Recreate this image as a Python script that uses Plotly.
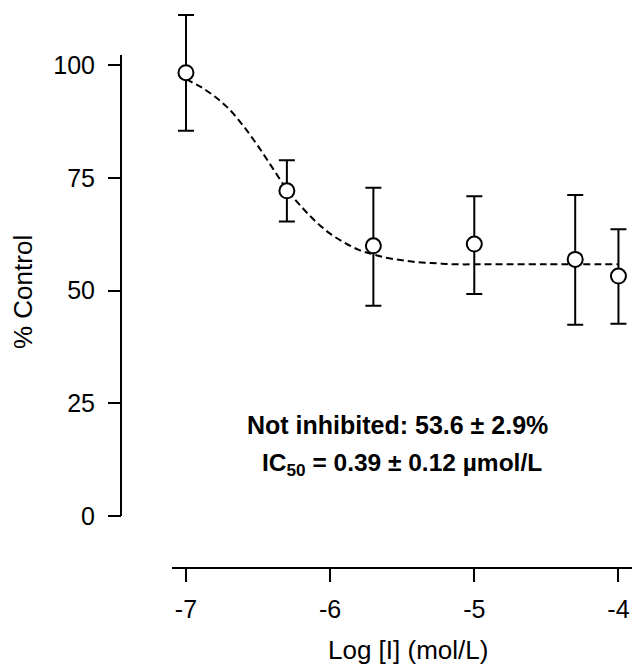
import plotly.graph_objects as go

# Data
log_conc = [-7.0, -6.3, -5.7, -5.0, -4.3, -4.0]
pct_control = [98.3, 72.1, 59.9, 60.3, 56.9, 53.2]
err_plus = [12.8, 6.8, 12.9, 10.6, 14.3, 10.4]
err_minus = [12.9, 6.8, 13.3, 11.1, 14.5, 10.6]

fit_x = [-7.0, -6.9, -6.8, -6.7, -6.6, -6.5, -6.4, -6.3, -6.2, -6.1, -6.0,
         -5.9, -5.8, -5.7, -5.6, -5.5, -5.4, -5.3, -5.2, -5.1, -5.0, -4.5, -4.0]
fit_y = [96.8, 95.2, 93.0, 90.2, 86.4, 82.0, 77.2, 72.4, 68.6, 65.3, 62.6,
         60.6, 59.0, 58.0, 57.2, 56.7, 56.3, 56.1, 55.9, 55.8, 55.8, 55.8, 55.8]

x_ticks = [-7, -6, -5, -4]
y_ticks = [0, 25, 50, 75, 100]
y_axis_top = 102.2

FONT = "Liberation Sans, Arial, Helvetica, sans-serif"

W, H = 632, 664
L, R, T, B = 121, 0, 11, 96
pw, ph = W - L - R, H - T - B


def px(xr):
    return (xr - L) / pw


def py(yr):
    return (H - B - yr) / ph


unit = (516 - 65) / 100.0
y_top = (516 - T) / unit

fig = go.Figure()
fig.add_trace(go.Scatter(
    x=fit_x, y=fit_y, mode="lines",
    line=dict(color="black", width=2, dash="7px,4px", shape="spline"),
    hoverinfo="skip", showlegend=False))
fig.add_trace(go.Scatter(
    x=log_conc, y=pct_control, mode="markers",
    marker=dict(symbol="circle", size=15, color="white", line=dict(color="black", width=2)),
    error_y=dict(type="data", array=err_plus, arrayminus=err_minus, symmetric=False,
                 color="black", thickness=2, width=8),
    cliponaxis=False, showlegend=False))

fig.update_layout(
    width=W, height=H, margin=dict(l=L, r=R, t=T, b=B, pad=0),
    paper_bgcolor="white", plot_bgcolor="white",
    font=dict(family=FONT, color="black"),
    xaxis=dict(domain=[px(171.7), 1], range=[-7.099, -3.906], anchor="free", position=0,
               tickvals=x_ticks, ticktext=[str(v) for v in x_ticks],
               ticks="outside", ticklen=13, tickwidth=2, tickcolor="black",
               showline=True, linecolor="black", linewidth=2,
               showgrid=False, zeroline=False, tickfont=dict(size=25, family=FONT),
               ticklabelstandoff=6, ticklabeloverflow="allow"),
    yaxis=dict(domain=[py(516), 1], range=[0, y_top], anchor="free", position=0,
               tickvals=y_ticks, ticktext=[str(v) for v in y_ticks],
               ticks="outside", ticklen=13, tickwidth=2, tickcolor="black",
               showline=False,
               showgrid=False, zeroline=False, tickfont=dict(size=25, family=FONT),
               ticklabelstandoff=8, ticklabeloverflow="allow"),
    shapes=[dict(type="line", xref="paper", yref="y", x0=0, x1=0, y0=0, y1=y_axis_top,
                 line=dict(color="black", width=2))],
    annotations=[
        dict(text="Log [I] (mol/L)", xref="paper", yref="paper", x=px(408), y=py(650),
             xanchor="center", yanchor="middle", showarrow=False, font=dict(size=26)),
        dict(text="% Control", xref="paper", yref="paper", x=px(23), y=py(292),
             xanchor="center", yanchor="middle", textangle=-90, showarrow=False,
             font=dict(size=26)),
        dict(text="<b>Not inhibited: 53.6 ± 2.9%</b>", xref="paper", yref="paper",
             x=px(397), y=py(425), xanchor="center", yanchor="middle", showarrow=False,
             font=dict(size=25)),
        dict(text="<b>IC<sub>50</sub> = 0.39 ± 0.12 µmol/L</b>", xref="paper", yref="paper",
             x=px(402), y=py(464), xanchor="center", yanchor="middle", showarrow=False,
             font=dict(size=24.5)),
    ],
)

fig.write_html("out.html", config={"displayModeBar": False},
               post_script="document.body.style.margin='0';document.body.style.overflow='hidden';")
